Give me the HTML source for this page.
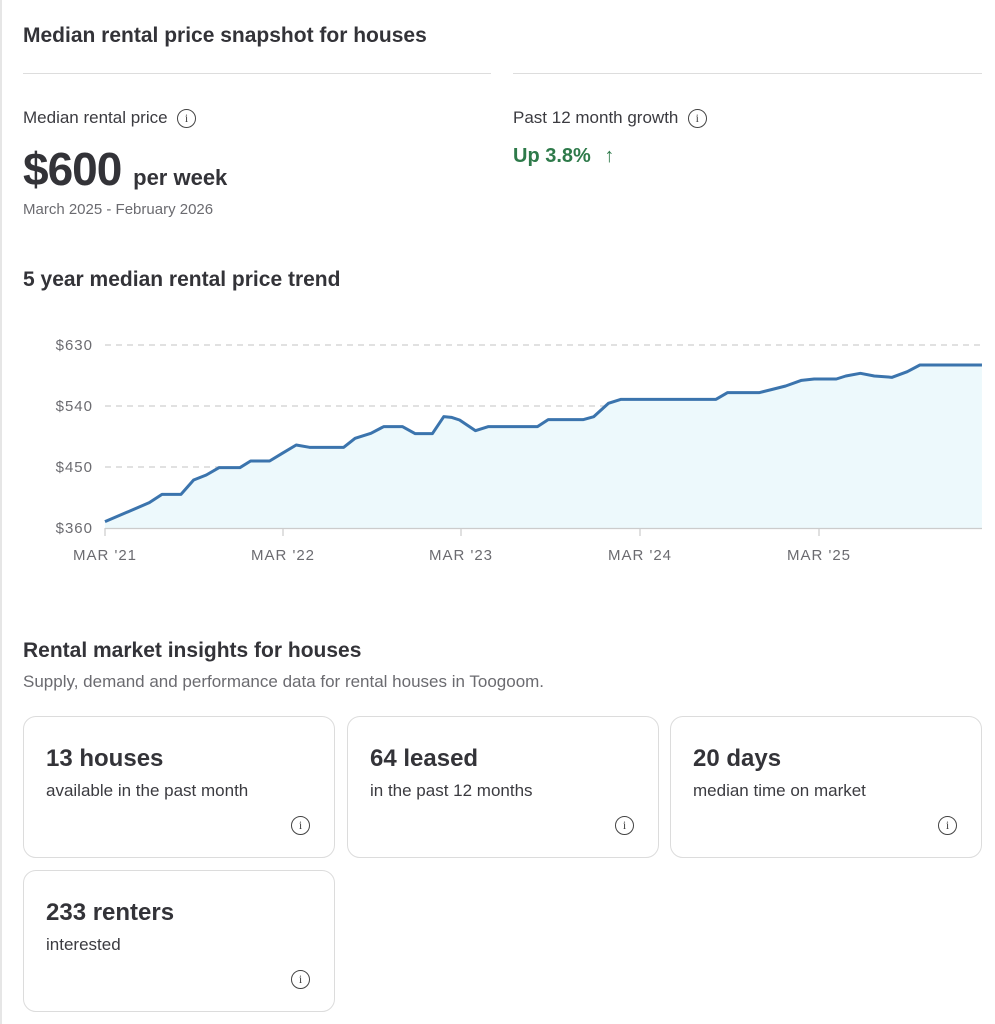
<!DOCTYPE html>
<html><head><meta charset="utf-8"><style>
*{margin:0;padding:0;box-sizing:border-box}
body{width:995px;height:1024px;background:#fff;font-family:"Liberation Sans",sans-serif;color:#3b3b40;position:relative;overflow:hidden}
.a{position:absolute;white-space:nowrap}
.h{font-weight:bold;font-size:21px;color:#333338}
.info{display:inline-block;width:19px;height:19px;border:1.6px solid #444;border-radius:50%;font-size:12px;text-align:center;line-height:16px;font-family:"Liberation Serif",serif;color:#444;vertical-align:middle}
.card{position:absolute;border:1px solid #dcdcdc;border-radius:13px;width:312px;height:142px}
.card b{position:absolute;left:22px;top:28px;font-size:24px;color:#333338}
.card span{position:absolute;left:22px;top:64px;font-size:17px;color:#3b3b40}
.card i{position:absolute;right:24px;top:99px;font-style:normal}
</style></head><body>
<div class="a" style="left:0;top:0;width:2px;height:1024px;background:#e6e6e6"></div>
<div class="a h" style="left:23px;top:24px">Median rental price snapshot for houses</div>
<div class="a" style="left:23px;top:73px;width:468px;height:1px;background:#ddd"></div>
<div class="a" style="left:513px;top:73px;width:469px;height:1px;background:#ddd"></div>
<div class="a" style="left:23px;top:108px;font-size:17px">Median rental price &nbsp;<span class="info">i</span></div>
<div class="a" style="left:513px;top:108px;font-size:17px">Past 12 month growth &nbsp;<span class="info">i</span></div>
<div class="a" style="left:513px;top:145px;font-size:20px;font-weight:bold;color:#2e7a4a">Up 3.8% <span style="font-weight:normal;margin-left:8px">↑</span></div>
<div class="a" style="left:23px;top:142px;font-size:46px;font-weight:bold;color:#333338;letter-spacing:-1px">$600 <span style="font-size:22px;letter-spacing:0">per week</span></div>
<div class="a" style="left:23px;top:201px;font-size:15px;color:#6b6b70">March 2025 - February 2026</div>
<div class="a h" style="left:23px;top:268px">5 year median rental price trend</div>
<svg class="a" style="left:0;top:0" width="995" height="600">
<g stroke="#cfcfcf" stroke-dasharray="6,5" stroke-width="1.2">
<line x1="105" y1="345" x2="982" y2="345"/><line x1="105" y1="406" x2="982" y2="406"/><line x1="105" y1="467" x2="982" y2="467"/></g>
<g transform="translate(0.5,320) scale(0.6332,0.33333)">
<path fill="#edf9fc" d="M165,605 L235,548 L255,523 L285,523 L305,480 L325,465 L345,443 L378,443 L395,423 L425,423 L445,400 L467,375 L488,382 L542,382 L560,355 L585,340 L605,320 L635,320 L655,341 L682,341 L700,290 L712,292 L725,300 L750,332 L770,320 L848,320 L865,299 L920,299 L937,290 L960,250 L980,238 L1130,238 L1148,218 L1198,218 L1215,210 L1240,198 L1265,181 L1285,177 L1320,177 L1335,168 L1358,160 L1380,168 L1408,172 L1432,155 L1452,135 L1550,135 L1550,626 L165,626Z"/>
<path fill="none" stroke="#3b74ad" stroke-linejoin="round" vector-effect="non-scaling-stroke" style="stroke-width:3px" d="M165,605 L235,548 L255,523 L285,523 L305,480 L325,465 L345,443 L378,443 L395,423 L425,423 L445,400 L467,375 L488,382 L542,382 L560,355 L585,340 L605,320 L635,320 L655,341 L682,341 L700,290 L712,292 L725,300 L750,332 L770,320 L848,320 L865,299 L920,299 L937,290 L960,250 L980,238 L1130,238 L1148,218 L1198,218 L1215,210 L1240,198 L1265,181 L1285,177 L1320,177 L1335,168 L1358,160 L1380,168 L1408,172 L1432,155 L1452,135 L1550,135"/>
</g>
<line x1="105" y1="528.5" x2="982" y2="528.5" stroke="#ccc" stroke-width="1.2"/>
<g stroke="#ccc" stroke-width="1.2"><line x1="105" y1="528" x2="105" y2="536"/><line x1="283" y1="528" x2="283" y2="536"/><line x1="461" y1="528" x2="461" y2="536"/><line x1="640" y1="528" x2="640" y2="536"/><line x1="819" y1="528" x2="819" y2="536"/></g>
<g font-family="Liberation Sans,sans-serif" font-size="15" fill="#6b6b70" letter-spacing="1">
<text x="93" y="350" text-anchor="end">$630</text><text x="93" y="411" text-anchor="end">$540</text><text x="93" y="472" text-anchor="end">$450</text><text x="93" y="533" text-anchor="end">$360</text>
<text x="105" y="560" text-anchor="middle">MAR '21</text><text x="283" y="560" text-anchor="middle">MAR '22</text><text x="461" y="560" text-anchor="middle">MAR '23</text><text x="640" y="560" text-anchor="middle">MAR '24</text><text x="819" y="560" text-anchor="middle">MAR '25</text>
</g></svg>
<div class="a h" style="left:23px;top:639px">Rental market insights for houses</div>
<div class="a" style="left:23px;top:672px;font-size:17px;color:#6b6b70">Supply, demand and performance data for rental houses in Toogoom.</div>
<div class="card" style="left:23px;top:716px"><b>13 houses</b><span>available in the past month</span><i class="info">i</i></div>
<div class="card" style="left:347px;top:716px"><b>64 leased</b><span>in the past 12 months</span><i class="info">i</i></div>
<div class="card" style="left:670px;top:716px"><b>20 days</b><span>median time on market</span><i class="info">i</i></div>
<div class="card" style="left:23px;top:870px"><b>233 renters</b><span>interested</span><i class="info">i</i></div>
</body></html>
